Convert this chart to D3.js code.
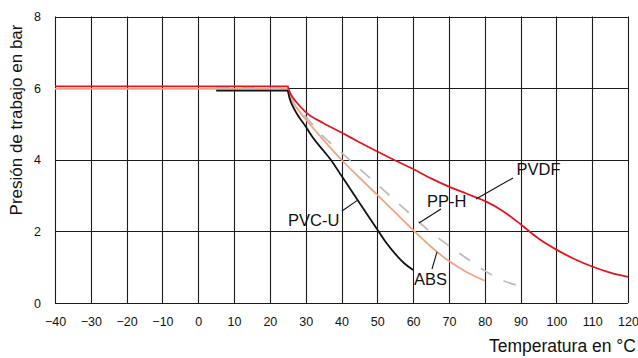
<!DOCTYPE html>
<html>
<head>
<meta charset="utf-8">
<script src="https://cdn.jsdelivr.net/npm/d3@7"></script>
<style>
  html, body { margin: 0; padding: 0; background: #fff; }
  svg { display: block; }
  text { font-family: "Liberation Sans", Arial, sans-serif; fill: #111; }
</style>
</head>
<body>
<svg id="chart" width="638" height="358"></svg>
<script>
// ---- Data ----
const xTicks = [-40, -30, -20, -10, 0, 10, 20, 30, 40, 50, 60, 70, 80, 90, 100, 110, 120];
const xTickLabels = ["\u221240", "\u221230", "\u221220", "\u221210", "0", "10", "20", "30", "40", "50", "60", "70", "80", "90", "100", "110", "120"];
const yTicks = [0, 2, 4, 6, 8];
const yTickLabels = ["0", "2", "4", "6", "8"];

const pvdfT = [-40, 25, 25.5, 26, 27.5, 30, 35, 40, 45, 50, 55, 60, 65, 70, 75, 80, 85, 90, 95, 100, 105, 110, 115, 120];
const pvdfV = [6.05, 6.05, 5.9, 5.8, 5.6, 5.33, 5.02, 4.76, 4.49, 4.23, 3.98, 3.74, 3.48, 3.25, 3.05, 2.85, 2.57, 2.2, 1.8, 1.49, 1.23, 1.02, 0.85, 0.73];

const absT = [-40, 25, 25.5, 27.5, 30, 35, 40, 45, 50, 55, 60, 65, 70, 75, 80];
const absV = [5.98, 5.98, 5.8, 5.45, 5.13, 4.55, 4.0, 3.5, 3.02, 2.53, 2.04, 1.57, 1.17, 0.86, 0.62];

const pphT = [5, 25, 25.5, 27.5, 30, 34, 40, 45, 50, 55, 60, 65, 70, 75, 80, 85, 90];
const pphV = [6.0, 6.0, 5.85, 5.45, 5.2, 4.74, 4.2, 3.75, 3.31, 2.86, 2.41, 1.97, 1.6, 1.24, 0.9, 0.63, 0.47];

const pvcT = [5, 25, 25.5, 27, 30, 32, 35, 37, 40, 45, 50, 52.5, 55, 57.5, 60];
const pvcV = [5.93, 5.93, 5.72, 5.38, 4.93, 4.62, 4.25, 4.0, 3.55, 2.8, 2.05, 1.68, 1.37, 1.11, 0.92];

const seriesNames = ["PP-H", "ABS", "PVC-U", "PVDF"];
const seriesColors = ["#bdbdbd", "#f5a283", "#111111", "#e2161d"];

// label anchors in data units: [textT, textV, leaderFromT, leaderFromV, leaderToT, leaderToV]
const labelPVDF = [88.87, 3.574, 87.89, 3.49, 77.56, 2.904];
const labelPPH  = [63.87, 2.68, 67.78, 2.625, 61.64, 2.234];
const labelPVC  = [25.06, 2.164, 40.14, 2.569, 44.61, 2.88];
const labelABS  = [60.24, 0.503, 65.27, 0.949, 66.67, 1.43];

// ---- Chart ----
const svg = d3.select("#chart");
const x = d3.scaleLinear().domain([-40, 120]).range([55, 628]);
const y = d3.scaleLinear().domain([0, 8]).range([303, 16.5]);

// grid
const grid = svg.append("g").attr("stroke", "#1c1c1c").attr("stroke-width", 1.1);
grid.selectAll("line.v").data(xTicks).join("line").attr("class", "v")
  .attr("x1", d => Math.round(x(d)) + 0.5).attr("x2", d => Math.round(x(d)) + 0.5)
  .attr("y1", y(8)).attr("y2", y(0));
grid.selectAll("line.h").data(yTicks).join("line").attr("class", "h")
  .attr("x1", x(-40)).attr("x2", x(120))
  .attr("y1", d => Math.round(y(d)) + 0.5).attr("y2", d => Math.round(y(d)) + 0.5);

// axes (labels only)
const xAxis = d3.axisBottom(x).tickValues(xTicks).tickFormat((d, i) => xTickLabels[i]).tickSize(0).tickPadding(14);
const gx = svg.append("g").attr("transform", `translate(0,${y(0)})`).call(xAxis);
gx.select(".domain").remove();
gx.selectAll("text").attr("font-size", 12.5).attr("font-family", "Liberation Sans, Arial, sans-serif").attr("fill", "#111");

const yAxis = d3.axisLeft(y).tickValues(yTicks).tickFormat((d, i) => yTickLabels[i]).tickSize(0).tickPadding(14);
const gy = svg.append("g").attr("transform", `translate(${x(-40)},0)`).call(yAxis);
gy.select(".domain").remove();
gy.selectAll("text").attr("font-size", 12.5).attr("font-family", "Liberation Sans, Arial, sans-serif").attr("fill", "#111");

// series
function drawSeries(T, V, color, width, dash) {
  const pts = T.map((t, i) => [t, V[i]]);
  const flat = d3.line().x(d => x(d[0])).y(d => y(d[1]));
  const curve = d3.line().x(d => x(d[0])).y(d => y(d[1])).curve(d3.curveMonotoneX);
  const d = flat(pts.slice(0, 2)) + curve(pts.slice(1)).replace(/^M[^A-Za-z]*/, "L" + x(pts[1][0]) + "," + y(pts[1][1]));
  svg.append("path").attr("d", d).attr("fill", "none").attr("stroke", color)
    .attr("stroke-width", width).attr("stroke-linejoin", "round")
    .attr("stroke-dasharray", dash || null);
}
drawSeries(absT, absV, seriesColors[1], 1.8);
drawSeries(pphT, pphV, seriesColors[0], 1.8, "13,13");
drawSeries(pvcT, pvcV, seriesColors[2], 1.8);
drawSeries(pvdfT, pvdfV, seriesColors[3], 1.8);

// labels
const labels = [[seriesNames[3], labelPVDF], [seriesNames[0], labelPPH], [seriesNames[2], labelPVC], [seriesNames[1], labelABS]];
labels.forEach(([name, a]) => {
  svg.append("line").attr("x1", x(a[2])).attr("y1", y(a[3])).attr("x2", x(a[4])).attr("y2", y(a[5]))
    .attr("stroke", "#111").attr("stroke-width", 1.1);
  svg.append("text").attr("x", x(a[0])).attr("y", y(a[1])).attr("font-size", 16.5).text(name);
});

// axis titles
svg.append("text").attr("x", 636).attr("y", 352).attr("text-anchor", "end").attr("font-size", 17.5)
  .text("Temperatura en \u00B0C");
svg.append("text").attr("transform", "translate(22,120) rotate(-90)").attr("text-anchor", "middle").attr("font-size", 17)
  .text("Presión de trabajo en bar");
</script>
</body>
</html>
